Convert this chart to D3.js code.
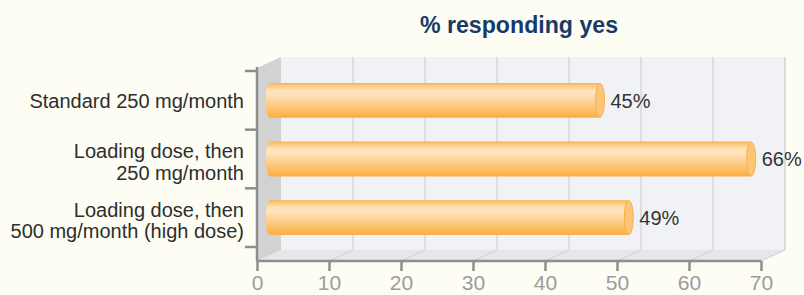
<!DOCTYPE html>
<html>
<head>
<meta charset="utf-8">
<script src="https://cdn.jsdelivr.net/npm/d3@7"></script>
<style>
  html, body { margin: 0; padding: 0; background: #fdfdf4; }
  svg { display: block; }
  text { font-family: "Liberation Sans", Arial, sans-serif; }
</style>
</head>
<body>
<svg id="chart" width="804" height="295"></svg>
<script>
// ---- data ----
const categories = [
  ["Standard 250 mg/month"],
  ["Loading dose, then", "250 mg/month"],
  ["Loading dose, then", "500 mg/month (high dose)"]
];
const values = [45, 66, 49];
const valueLabels = ["45%", "66%", "49%"];
const xTicks = [0, 10, 20, 30, 40, 50, 60, 70];
const title = "% responding yes";

// ---- layout ----
const frontLeft = 257, frontRight = 761;
const frontTop = 68, frontBottom = 261;
const depthX = 24, depthY = -11;
const svg = d3.select("#chart");

const x = d3.scaleLinear().domain([0, 70]).range([frontLeft, frontRight]);
const keys = categories.map((c, i) => i);
const y = d3.scaleBand().domain(keys).range([71, 247]).padding(0);

const defs = svg.append("defs");
const grad = defs.append("linearGradient").attr("id", "cyl")
  .attr("x1", 0).attr("y1", 0).attr("x2", 0).attr("y2", 1);
[[0, "#fbb046"], [0.06, "#fcc674"], [0.22, "#fee3bd"], [0.35, "#fee2ba"],
 [0.65, "#fdca80"], [0.9, "#fcb552"], [1, "#faad42"]].forEach(([o, c]) =>
  grad.append("stop").attr("offset", o).attr("stop-color", c));

// ---- 3D frame ----
const bx = v => x(v) + depthX;
const backTop = frontTop + depthY, backBottom = frontBottom + depthY;

// back wall
svg.append("rect")
  .attr("x", bx(0)).attr("y", backTop)
  .attr("width", bx(70) - bx(0)).attr("height", backBottom - backTop)
  .attr("fill", "#f1f2f5");

// back wall gridlines
svg.append("g").selectAll("line").data(xTicks.slice(1)).join("line")
  .attr("x1", d => bx(d)).attr("x2", d => bx(d))
  .attr("y1", backTop).attr("y2", backBottom)
  .attr("stroke", d => d === 70 ? "#d2d2d4" : "#d8d8da").attr("stroke-width", 1.5);

// floor
svg.append("path")
  .attr("d", `M${x(0)},${frontBottom} L${x(70)},${frontBottom} L${bx(70)},${backBottom} L${bx(0)},${backBottom} Z`)
  .attr("fill", "#e6e7e9");
svg.append("g").selectAll("line").data(xTicks.slice(1)).join("line")
  .attr("x1", d => x(d)).attr("y1", frontBottom)
  .attr("x2", d => bx(d)).attr("y2", backBottom)
  .attr("stroke", "#d0d0d2").attr("stroke-width", 1);

// left wall
svg.append("path")
  .attr("d", `M${x(0)},${frontTop} L${bx(0)},${backTop} L${bx(0)},${backBottom} L${x(0)},${frontBottom} Z`)
  .attr("fill", "#d2d2d3");

// ---- bars (cylinders) ----
const barH = y.bandwidth() * 0.595;
const rx = 4.5;
const startOff = 13, endOff = 19;
const bars = svg.append("g").selectAll("g").data(values).join("g");
bars.append("path")
  .attr("d", (d, i) => {
    const cy = y(i) + y.bandwidth() / 2;
    const t = cy - barH / 2, b = cy + barH / 2;
    const x0 = x(0) + startOff, x1 = x(d) + endOff;
    return `M${x1},${t} L${x0},${t} A${rx},${barH / 2} 0 0 0 ${x0},${b} L${x1},${b} Z`;
  })
  .attr("fill", "url(#cyl)");
bars.append("ellipse")
  .attr("cx", d => x(d) + endOff)
  .attr("cy", (d, i) => y(i) + y.bandwidth() / 2)
  .attr("rx", rx).attr("ry", barH / 2 - 0.5)
  .attr("fill", "#fdc677").attr("stroke", "#f8b04c").attr("stroke-width", 1);
bars.append("text")
  .attr("x", d => x(d) + endOff + rx + 6)
  .attr("y", (d, i) => y(i) + y.bandwidth() / 2 + 7.2)
  .attr("font-size", 20).attr("fill", "#333")
  .text((d, i) => valueLabels[i]);

// ---- axes ----
const axisColor = "#8e8e8e";
const xAxis = svg.append("g").attr("transform", `translate(0,${frontBottom})`)
  .call(d3.axisBottom(x).tickValues(xTicks).tickSize(10).tickPadding(6).tickFormat(d3.format("d")));
xAxis.select(".domain").attr("stroke", axisColor).attr("stroke-width", 2.5)
  .attr("d", `M${x(0)},0H${x(70)}`);
xAxis.selectAll(".tick line").attr("stroke", axisColor).attr("stroke-width", 2.5);
xAxis.selectAll(".tick text")
  .attr("font-family", "Liberation Sans, Arial, sans-serif")
  .attr("font-size", 21).attr("fill", "#9c9c9c")
  .attr("y", 29).attr("dy", 0);

// y axis line
svg.append("line")
  .attr("x1", x(0)).attr("x2", x(0)).attr("y1", frontTop - 1).attr("y2", frontBottom)
  .attr("stroke", axisColor).attr("stroke-width", 2.5);
// category boundary ticks
const bounds = keys.map(k => y(k)).concat([y.range()[1]]);
svg.append("g").selectAll("line").data(bounds).join("line")
  .attr("x1", x(0) - 12).attr("x2", x(0))
  .attr("y1", d => d).attr("y2", d => d)
  .attr("stroke", axisColor).attr("stroke-width", 2.5);

// category labels
const lineH = 21.7;
svg.append("g").selectAll("text").data(categories).join("text")
  .attr("text-anchor", "end").attr("font-size", 20).attr("fill", "#2e2e2e")
  .each(function(lines, i) {
    const cy = y(i) + y.bandwidth() / 2 + (lines.length > 1 ? 2.5 : 0);
    const t = d3.select(this);
    lines.forEach((ln, j) => {
      t.append("tspan").attr("x", x(0) - 13)
        .attr("y", cy + 7.3 + (j - (lines.length - 1) / 2) * lineH)
        .text(ln);
    });
  });

// title
svg.append("text")
  .attr("x", 519).attr("y", 33)
  .attr("text-anchor", "middle")
  .attr("font-size", 24).attr("font-weight", "bold").attr("fill", "#183a6a")
  .attr("textLength", 198).attr("lengthAdjust", "spacingAndGlyphs")
  .text(title);
</script>
</body>
</html>
